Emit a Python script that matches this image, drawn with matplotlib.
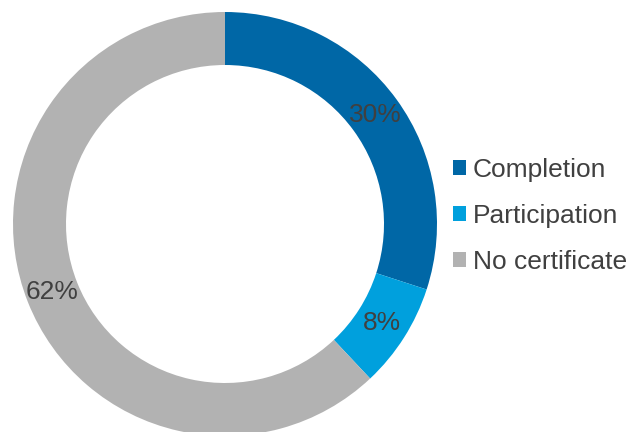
import matplotlib
matplotlib.use('Agg')
import matplotlib.pyplot as plt
from matplotlib.patches import Patch

plt.rcParams['font.family'] = ['Liberation Sans', 'DejaVu Sans']

categories = ['Completion', 'Participation', 'No certificate']
shares = [30, 8, 62]
colors = ['#0067A6', '#00A0DD', '#B2B2B2']
text_color = '#404040'

fig = plt.figure(figsize=(6.27, 4.32), dpi=100)
ax = fig.add_axes([13 / 627, -4 / 432, 424 / 627, 424 / 432])

wedges, texts, autotexts = ax.pie(
    shares, colors=colors, startangle=90, counterclock=False,
    radius=1.0, wedgeprops=dict(width=0.25, linewidth=0),
    autopct=lambda p: '%d%%' % round(p), pctdistance=0.875,
    textprops=dict(color=text_color, fontsize=19))
ax.set_xlim(-1, 1)
ax.set_ylim(-1, 1)
ax.set_aspect('equal')
ax.axis('off')

handles = [Patch(facecolor=c, edgecolor='none') for c in colors]
fig.legend(handles, categories, loc='center left',
           bbox_to_anchor=(453 / 627, 1 - 216 / 432),
           frameon=False, fontsize=19, labelcolor=text_color,
           handlelength=0.5, handleheight=0.5, handletextpad=0.25,
           labelspacing=0.83, borderpad=0, borderaxespad=0)

fig.savefig('out.png', dpi=100)
